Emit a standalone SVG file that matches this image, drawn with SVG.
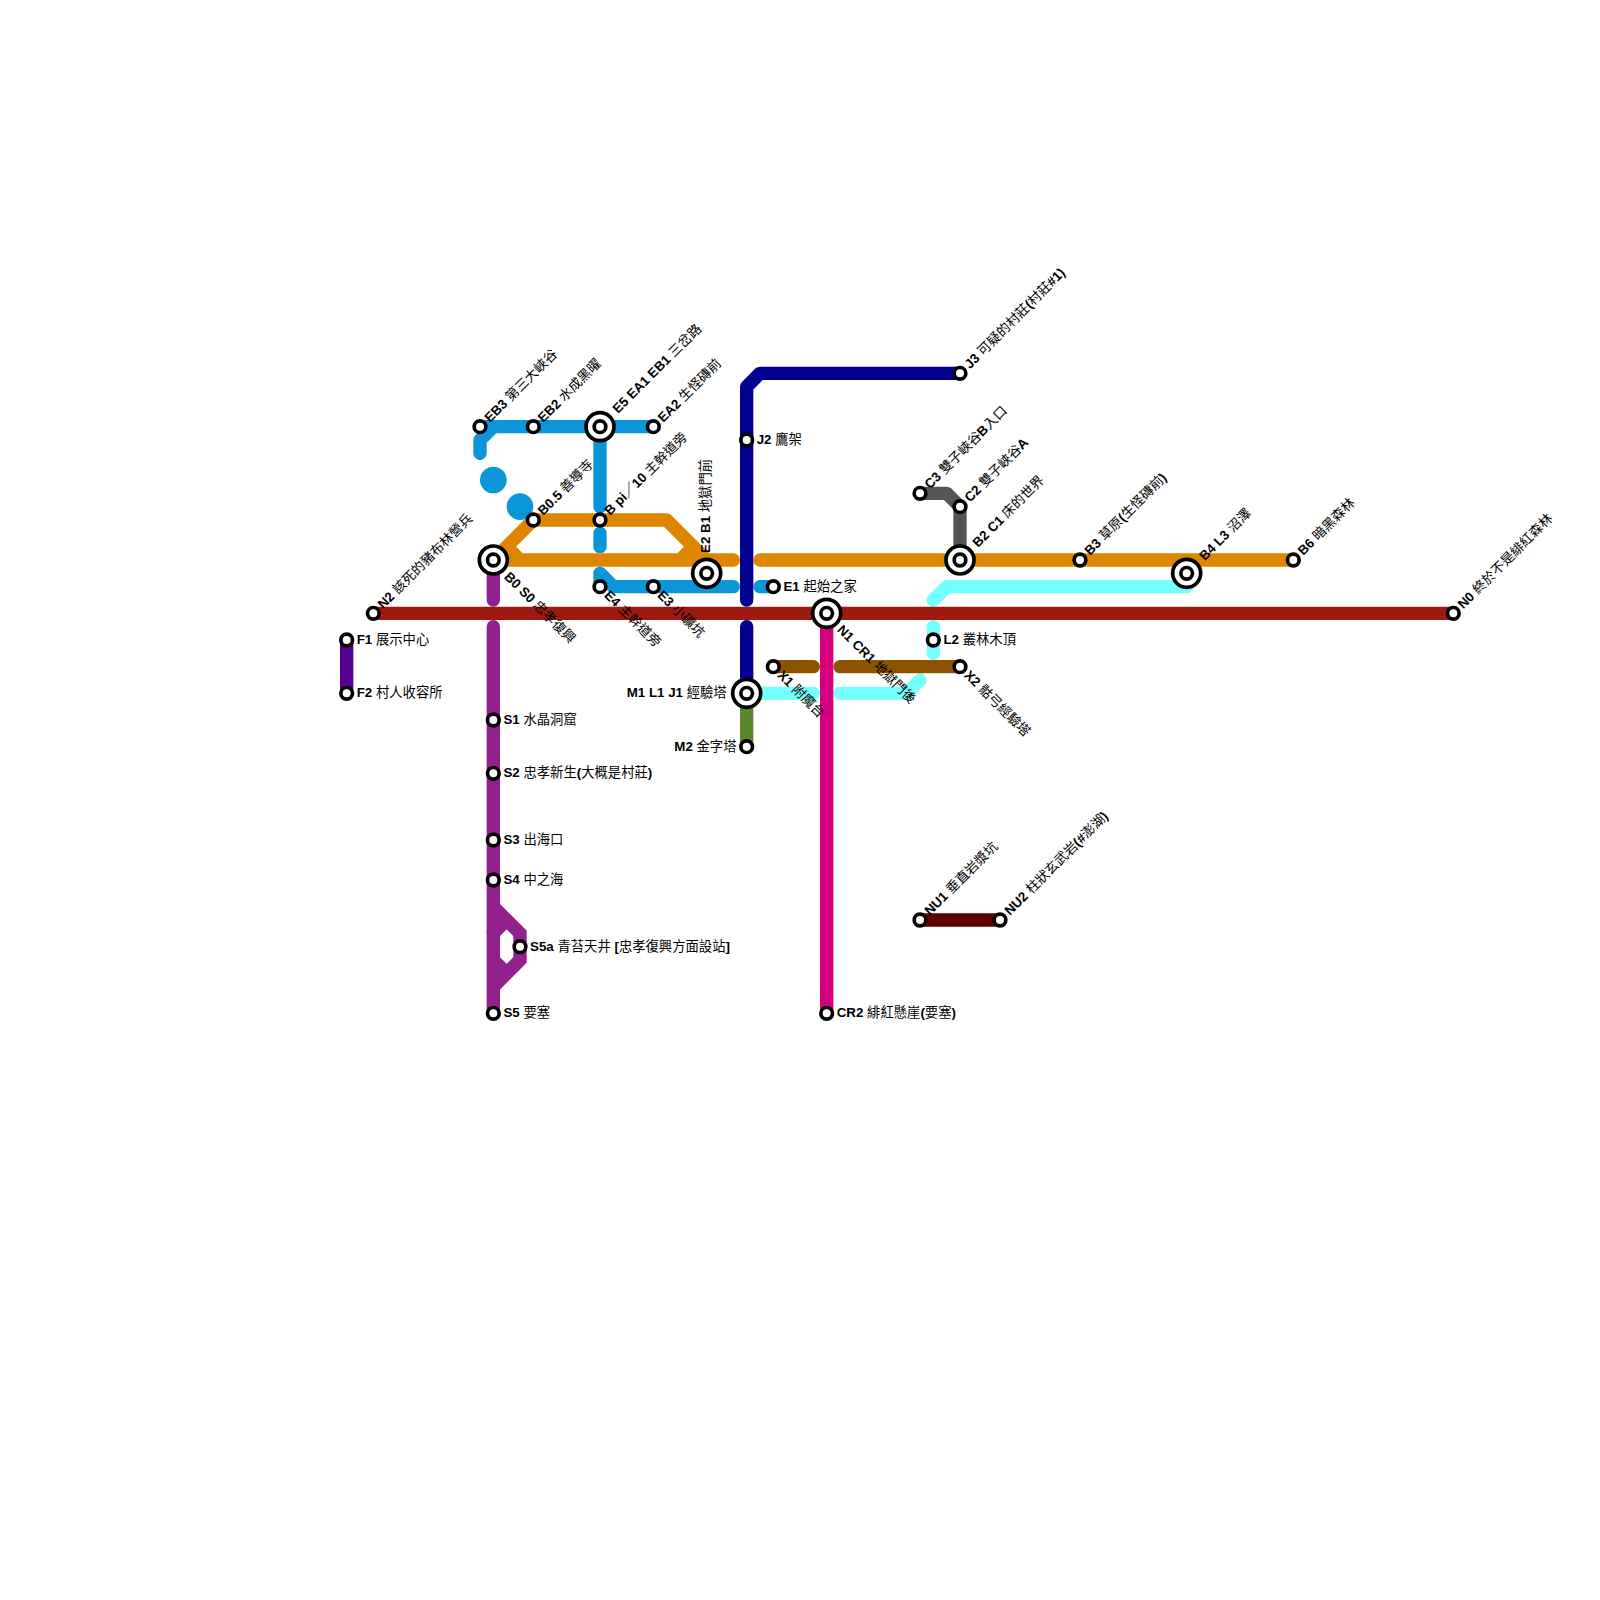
<svg xmlns="http://www.w3.org/2000/svg" width="1600" height="1600" viewBox="0 0 1600 1600">
<style>
.l{fill:none;stroke-width:13.33;stroke-linecap:round;stroke-linejoin:round}
.b{stroke:#0a96d8}.o{stroke:#df8600}.p{stroke:#92208f}.r{stroke:#9e1a10}.n{stroke:#000091}.c{stroke:#76ffff}.w{stroke:#8e5200}.k{stroke:#d6007f}.g{stroke:#5c862e}.y{stroke:#555}.d{stroke:#600000}.v{stroke:#55008f}
.s{fill:#fff;stroke:#000;stroke-width:3.67}
.i{fill:#fff;stroke:#000;stroke-width:3.7}
text{font-family:"Liberation Sans","Noto Sans CJK TC",sans-serif;font-size:13.33px;fill:#000}
tspan{font-weight:700}
</style>
<rect width="1600" height="1600" fill="#fff"/>
<g id="connectors">
<path class="l v" d="M346.67 640V693.33"/>
<path class="l p" d="M493.33 560V600M493.33 626.67V1013.33"/>
<path class="l p" style="stroke-linejoin:miter" d="M493.33 906.67L520 933.33V960L493.33 986.67M493.33 933.33L506.67 920M493.33 960L506.67 973.33"/>
<path class="l b" d="M653.33 426.67H493.33L480 440V453.33M480 426.67H493.33"/>
<path class="l b" d="M600 426.67V506.67M600 533.33V546.67M600 573.33L613.33 586.67H733.33M600 573.33V586.67M760 586.67H773.33"/>
<circle cx="493.33" cy="480" r="13.33" fill="#0a96d8"/>
<circle cx="520" cy="506.67" r="13.33" fill="#0a96d8"/>
<path class="l o" d="M493.33 560H733.33M493.33 560L533.33 520H666.67L706.67 560M506.67 546.67L520 560M693.33 546.67L680 560M760 560H1293.33"/>
<path class="l c" d="M1186.67 586.67H946.67L933.33 600M933.33 626.67V653.33M920 680L906.67 693.33H840M746.67 693.33H813.33"/>
<path class="l n" d="M960 373.33H760L746.67 386.67V600M746.67 626.67V693.33"/>
<path class="l g" d="M746.67 693.33V746.67"/>
<path class="l k" d="M826.67 613.33V1013.33"/>
<path class="l w" d="M773.33 666.67H813.33M840 666.67H960"/>
<path class="l y" d="M920 493.33H946.67L960 506.67V560"/>
<path class="l r" d="M373.33 613.33H1453.33"/>
<path class="l d" d="M920 920H1000"/>
</g>
<g id="n-eb3"><circle class="s" cx="480" cy="426.67" r="5.83"/><text transform="translate(490 423) rotate(-45)"><tspan>EB3</tspan> 第三大峽谷</text></g>
<g id="n-eb2"><circle class="s" cx="533.33" cy="426.67" r="5.83"/><text transform="translate(543.3 423) rotate(-45)"><tspan>EB2</tspan> 水成黑曜</text></g>
<g id="n-e5"><circle class="i" cx="600" cy="426.67" r="14"/><circle class="s" cx="600" cy="426.67" r="5.83"/><text transform="translate(618 414) rotate(-45)"><tspan>E5 EA1 EB1</tspan> 三岔路</text></g>
<g id="n-ea2"><circle class="s" cx="653.33" cy="426.67" r="5.83"/><text transform="translate(663.3 423) rotate(-45)"><tspan>EA2</tspan> 生怪磚前</text></g>
<g id="n-b05"><circle class="s" cx="533.33" cy="520" r="5.83"/><text transform="translate(543.3 516) rotate(-45)"><tspan>B0.5</tspan> 善導寺</text></g>
<g id="n-bpi"><circle class="s" cx="600" cy="520" r="5.83"/><text transform="translate(610 516) rotate(-45)"><tspan>B pi／10</tspan> 主幹道旁</text></g>
<g id="n-e2"><circle class="i" cx="706.67" cy="573.33" r="14"/><circle class="s" cx="706.67" cy="573.33" r="5.83"/><text transform="translate(710 553) rotate(-90)"><tspan>E2 B1</tspan> 地獄門前</text></g>
<g id="n-b0"><circle class="i" cx="493.33" cy="560" r="14"/><circle class="s" cx="493.33" cy="560" r="5.83"/><text transform="translate(503.5 577.5) rotate(45)"><tspan>B0 S0</tspan> 忠孝復興</text></g>
<g id="n-e4"><circle class="s" cx="600" cy="586.67" r="5.83"/><text transform="translate(603.5 596) rotate(45)"><tspan>E4</tspan> 主幹道旁</text></g>
<g id="n-e3"><circle class="s" cx="653.33" cy="586.67" r="5.83"/><text transform="translate(656.8 596) rotate(45)"><tspan>E3</tspan> 小礦坑</text></g>
<g id="n-n2"><circle class="s" cx="373.33" cy="613.33" r="5.83"/><text transform="translate(383.3 609.5) rotate(-45)"><tspan>N2</tspan> 該死的豬布林營兵</text></g>
<g id="n-f1"><circle class="s" cx="346.67" cy="640" r="5.83"/><text x="356.7" y="644"><tspan>F1</tspan> 展示中心</text></g>
<g id="n-f2"><circle class="s" cx="346.67" cy="693.33" r="5.83"/><text x="356.7" y="697.3"><tspan>F2</tspan> 村人收容所</text></g>
<g id="n-j3"><circle class="s" cx="960" cy="373.33" r="5.83"/><text transform="translate(970 369.5) rotate(-45)"><tspan>J3</tspan> 可疑的村莊<tspan>(</tspan>村莊<tspan>#1)</tspan></text></g>
<g id="n-j2"><circle class="s" cx="746.67" cy="440" r="5.83"/><text x="756.7" y="444"><tspan>J2</tspan> 鷹架</text></g>
<g id="n-e1"><circle class="s" cx="773.33" cy="586.67" r="5.83"/><text x="783.4" y="590.7"><tspan>E1</tspan> 起始之家</text></g>
<g id="n-c3"><circle class="s" cx="920" cy="493.33" r="5.83"/><text transform="translate(930 489.5) rotate(-45)"><tspan>C3</tspan> 雙子峽谷<tspan>B</tspan>入口</text></g>
<g id="n-c2"><circle class="s" cx="960" cy="506.67" r="5.83"/><text transform="translate(970 502.7) rotate(-45)"><tspan>C2</tspan> 雙子峽谷<tspan>A</tspan></text></g>
<g id="n-b2"><circle class="i" cx="960" cy="560" r="14"/><circle class="s" cx="960" cy="560" r="5.83"/><text transform="translate(978 548) rotate(-45)"><tspan>B2 C1</tspan> 床的世界</text></g>
<g id="n-b3"><circle class="s" cx="1080" cy="560" r="5.83"/><text transform="translate(1090 556) rotate(-45)"><tspan>B3</tspan> 草原<tspan>(</tspan>生怪磚前<tspan>)</tspan></text></g>
<g id="n-b4"><circle class="i" cx="1186.67" cy="573.33" r="14"/><circle class="s" cx="1186.67" cy="573.33" r="5.83"/><text transform="translate(1204.7 561.3) rotate(-45)"><tspan>B4 L3</tspan> 沼澤</text></g>
<g id="n-b6"><circle class="s" cx="1293.33" cy="560" r="5.83"/><text transform="translate(1303.3 556) rotate(-45)"><tspan>B6</tspan> 暗黑森林</text></g>
<g id="n-n0"><circle class="s" cx="1453.33" cy="613.33" r="5.83"/><text transform="translate(1463.3 609.5) rotate(-45)"><tspan>N0</tspan> 終於不是緋紅森林</text></g>
<g id="n-n1"><circle class="i" cx="826.67" cy="613.33" r="14"/><circle class="s" cx="826.67" cy="613.33" r="5.83"/><text transform="translate(836.5 630.5) rotate(45)"><tspan>N1 CR1</tspan> 地獄門後</text></g>
<g id="n-l2"><circle class="s" cx="933.33" cy="640" r="5.83"/><text x="943.4" y="644"><tspan>L2</tspan> 叢林木頂</text></g>
<g id="n-x1"><circle class="s" cx="773.33" cy="666.67" r="5.83"/><text transform="translate(776.8 676) rotate(45)"><tspan>X1</tspan> 附魔台</text></g>
<g id="n-x2"><circle class="s" cx="960" cy="666.67" r="5.83"/><text transform="translate(963.5 676) rotate(45)"><tspan>X2</tspan> 骷弓經驗塔</text></g>
<g id="n-m1"><circle class="i" cx="746.67" cy="693.33" r="14"/><circle class="s" cx="746.67" cy="693.33" r="5.83"/><text x="726.7" y="697.3" text-anchor="end"><tspan>M1 L1 J1</tspan> 經驗塔</text></g>
<g id="n-m2"><circle class="s" cx="746.67" cy="746.67" r="5.83"/><text x="736.5" y="750.7" text-anchor="end"><tspan>M2</tspan> 金字塔</text></g>
<g id="n-s1"><circle class="s" cx="493.33" cy="720" r="5.83"/><text x="503.4" y="724"><tspan>S1</tspan> 水晶洞窟</text></g>
<g id="n-s2"><circle class="s" cx="493.33" cy="773.33" r="5.83"/><text x="503.4" y="777.3"><tspan>S2</tspan> 忠孝新生<tspan>(</tspan>大概是村莊<tspan>)</tspan></text></g>
<g id="n-s3"><circle class="s" cx="493.33" cy="840" r="5.83"/><text x="503.4" y="844"><tspan>S3</tspan> 出海口</text></g>
<g id="n-s4"><circle class="s" cx="493.33" cy="880" r="5.83"/><text x="503.4" y="884"><tspan>S4</tspan> 中之海</text></g>
<g id="n-s5a"><circle class="s" cx="520" cy="946.67" r="5.83"/><text x="530" y="950.7"><tspan>S5a</tspan> 青苔天井 <tspan>[</tspan>忠孝復興方面設站<tspan>]</tspan></text></g>
<g id="n-s5"><circle class="s" cx="493.33" cy="1013.33" r="5.83"/><text x="503.4" y="1017.3"><tspan>S5</tspan> 要塞</text></g>
<g id="n-cr2"><circle class="s" cx="826.67" cy="1013.33" r="5.83"/><text x="836.7" y="1017.3"><tspan>CR2</tspan> 緋紅懸崖<tspan>(</tspan>要塞<tspan>)</tspan></text></g>
<g id="n-nu1"><circle class="s" cx="920" cy="920" r="5.83"/><text transform="translate(930 916) rotate(-45)"><tspan>NU1</tspan> 垂直岩漿坑</text></g>
<g id="n-nu2"><circle class="s" cx="1000" cy="920" r="5.83"/><text transform="translate(1010 916) rotate(-45)"><tspan>NU2</tspan> 柱狀玄武岩<tspan>(#</tspan>澎湖<tspan>)</tspan></text></g>
</svg>
